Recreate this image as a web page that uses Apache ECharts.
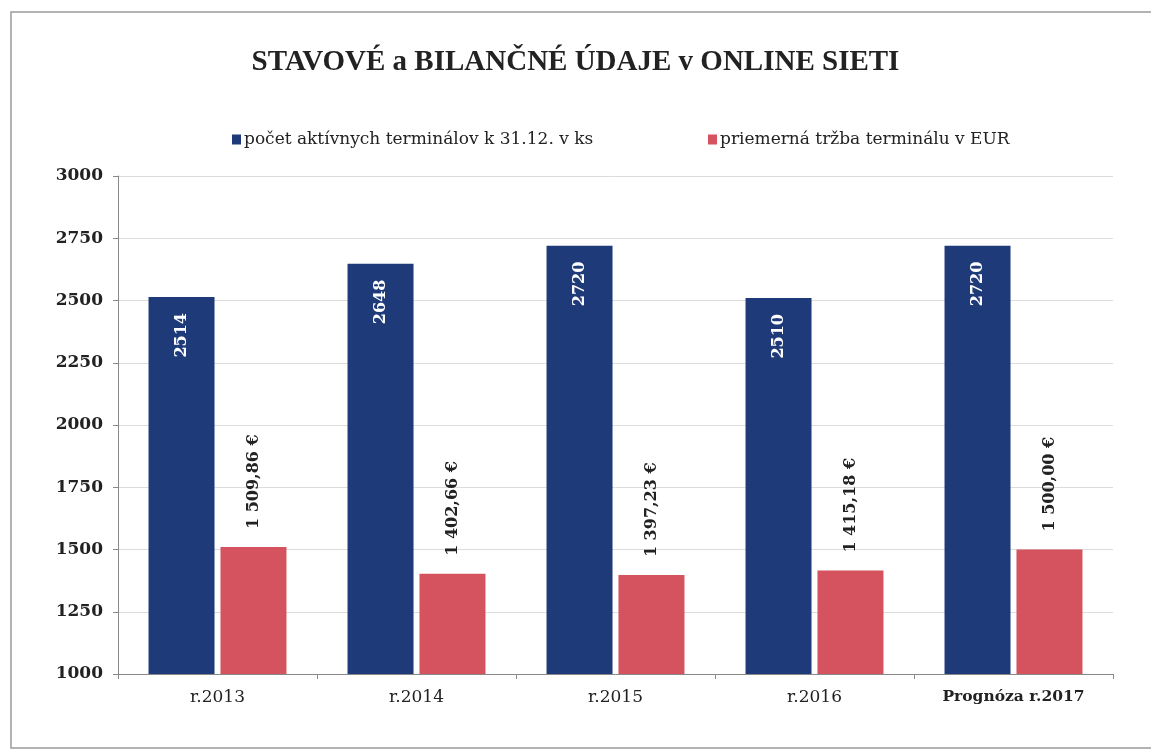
<!DOCTYPE html>
<html>
<head>
<meta charset="utf-8">
<script src="https://cdn.jsdelivr.net/npm/echarts@6/dist/echarts.min.js"></script>
<style>html,body{margin:0;padding:0;background:#fff}#c{width:1151px;height:750px}</style>
</head>
<body>
<div id="c"></div>
<script>
const categories = ['r.2013', 'r.2014', 'r.2015', 'r.2016', 'Prognóza r.2017'];
const terminals = [2514, 2648, 2720, 2510, 2720];
const revenue = [1509.86, 1402.66, 1397.23, 1415.18, 1500.00];
const yTicks = { min: 1000, max: 3000, interval: 250 };
const seriesNames = ['počet aktívnych terminálov k 31.12. v ks', 'priemerná tržba terminálu v EUR'];
const titleText = 'STAVOVÉ a BILANČNÉ ÚDAJE v ONLINE SIETI';

function fmtEur(v) {
  const parts = v.toFixed(2).split('.');
  const intPart = parts[0].replace(/\B(?=(\d{3})+(?!\d))/g, ' ');
  return intPart + ',' + parts[1] + ' €';
}

const serif = '"Liberation Serif", "DejaVu Serif", serif';
const wserif = '"DejaVu Serif", "Liberation Serif", serif';
const chart = echarts.init(document.getElementById('c'), null, { renderer: 'canvas' });
chart.setOption({
  backgroundColor: '#fff',
  animation: false,
  graphic: [{
    type: 'polyline',
    shape: { points: [[1160, 12], [11, 12], [11, 748], [1160, 748]] },
    style: { stroke: '#9a9a9a', lineWidth: 1.5, fill: null },
    silent: true
  }],
  title: {
    text: titleText,
    left: 'center',
    top: 43,
    textStyle: { fontFamily: serif, fontWeight: 'bold', fontSize: 29, color: '#222' }
  },
  legend: [{
    data: [seriesNames[0]],
    left: 227, top: 126,
    itemWidth: 9, itemHeight: 10, itemGap: 3,
    icon: 'rect',
    textStyle: { fontFamily: wserif, fontSize: 17, color: '#222', padding: [0, 0, 0, -2] }
  }, {
    data: [seriesNames[1]],
    left: 703, top: 126,
    itemWidth: 9, itemHeight: 10, itemGap: 3,
    icon: 'rect',
    textStyle: { fontFamily: wserif, fontSize: 17, color: '#222', padding: [0, 0, 0, -2] }
  }],
  grid: { left: 118, right: 38, top: 176, bottom: 76, containLabel: false },
  xAxis: {
    type: 'category',
    data: categories,
    axisLine: { lineStyle: { color: '#888', width: 1 } },
    axisTick: { show: true, length: 5, lineStyle: { color: '#888' } },
    axisLabel: { interval: 0, fontFamily: wserif, fontSize: 17, color: '#222', margin: 15,
      formatter: function (v) { return v === 'Prognóza r.2017' ? '{b|' + v + '}' : v; },
      rich: { b: { fontFamily: wserif, fontSize: 15.5, fontWeight: 'bold', color: '#222' } } }
  },
  yAxis: {
    type: 'value',
    min: yTicks.min, max: yTicks.max, interval: yTicks.interval,
    axisLine: { show: true, lineStyle: { color: '#888', width: 1 } },
    axisTick: { show: true, length: 5, lineStyle: { color: '#888' } },
    axisLabel: { fontFamily: wserif, fontSize: 17, fontWeight: 'bold', color: '#222', margin: 15,
      formatter: function (v) { return String(v); } },
    splitLine: { lineStyle: { color: '#dcdcdc', width: 1 } }
  },
  series: [{
    name: seriesNames[0],
    type: 'bar',
    data: terminals,
    barWidth: 66,
    barGap: '9%',
    itemStyle: { color: '#1f3a78' },
    label: {
      show: true,
      position: 'insideTop',
      rotate: 90,
      align: 'right',
      verticalAlign: 'middle',
      distance: 16,
      fontFamily: wserif, fontSize: 16, fontWeight: 'bold', color: '#fff'
    }
  }, {
    name: seriesNames[1],
    type: 'bar',
    data: revenue,
    barWidth: 66,
    itemStyle: { color: '#d5535f' },
    label: {
      show: true,
      position: 'top',
      rotate: 90,
      align: 'left',
      verticalAlign: 'middle',
      distance: 18,
      fontFamily: wserif, fontSize: 16, fontWeight: 'bold', color: '#222',
      formatter: function (p) { return fmtEur(p.value); }
    }
  }]
});
</script>
</body>
</html>
